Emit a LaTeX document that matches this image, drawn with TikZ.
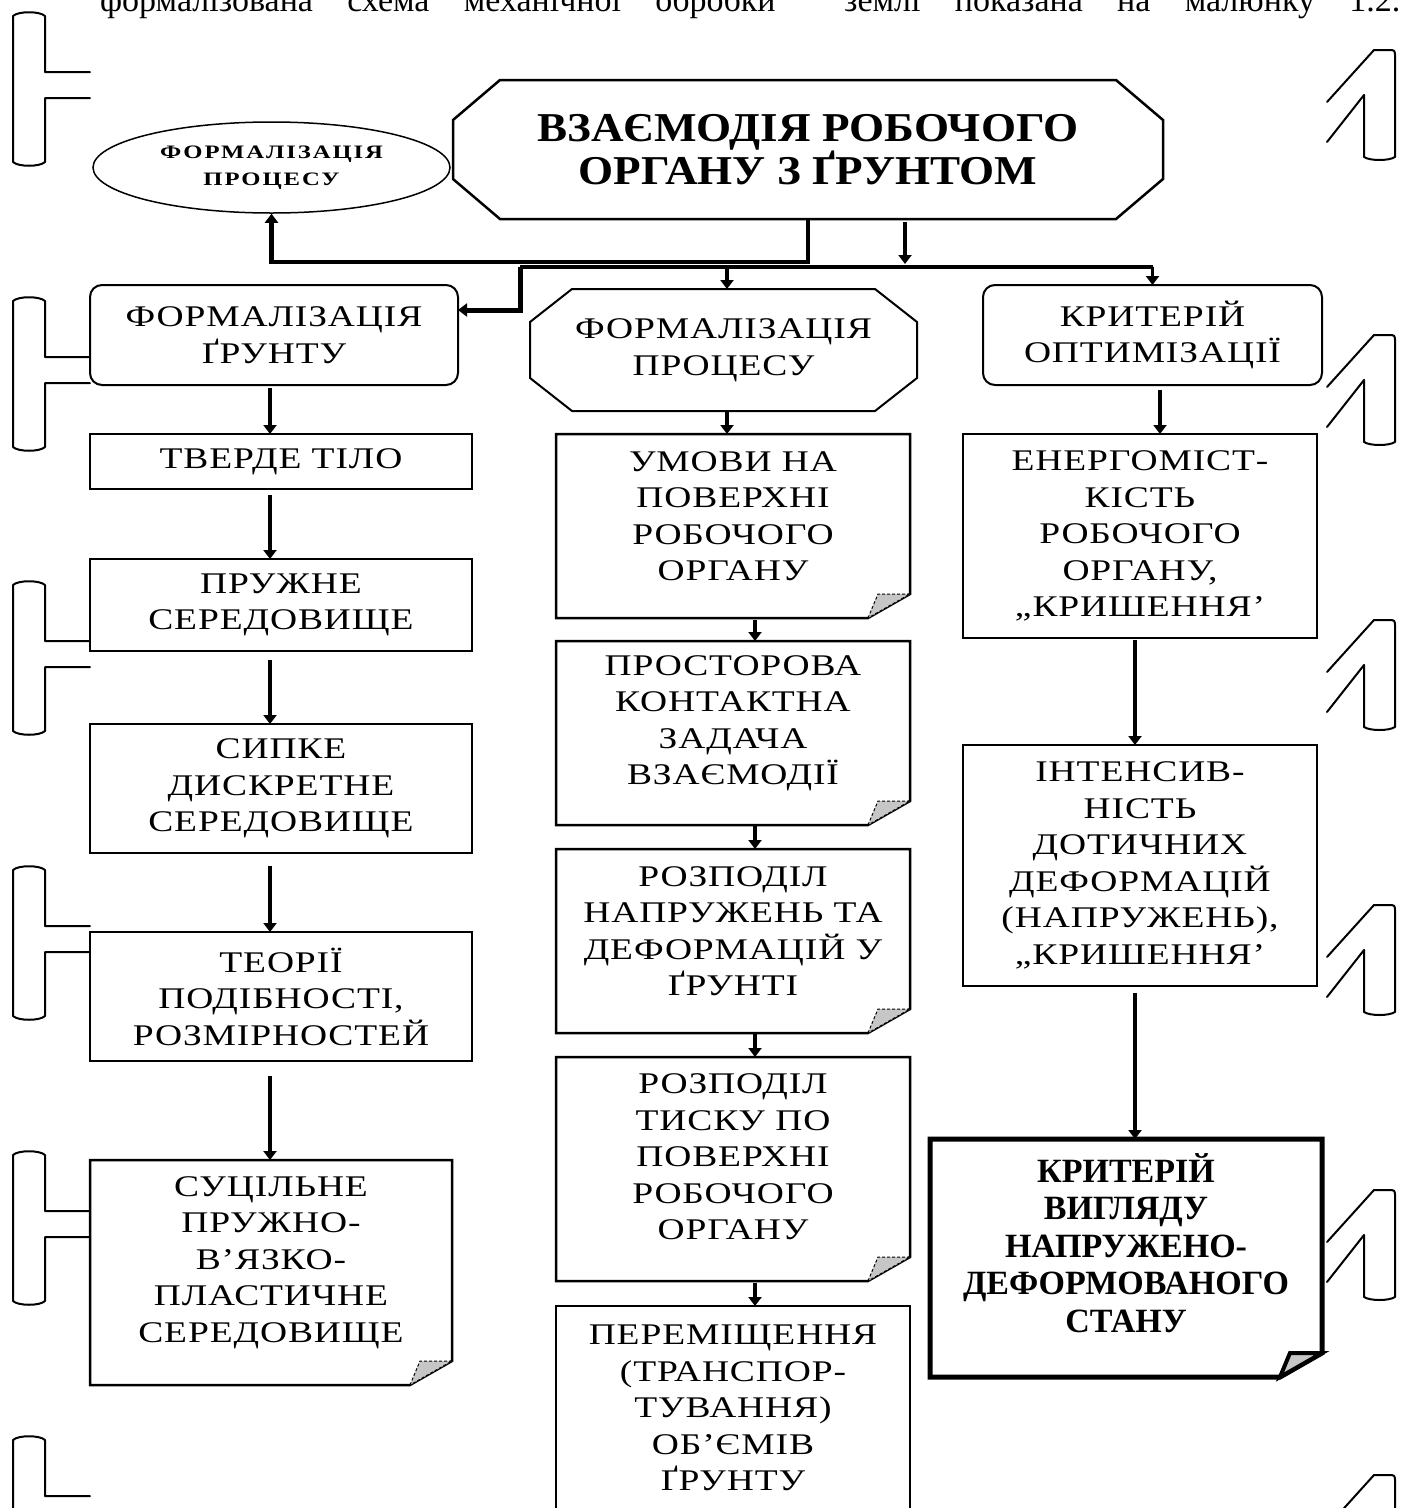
\documentclass[tikz,border=0pt]{standalone}
\usepackage{fontspec}
\usetikzlibrary{arrows.meta,calc,shapes.geometric}
\newfontfamily\bxfam[FakeStretch=1.25,LetterSpace=3]{Liberation Serif}
\newfontfamily\elfam[FakeStretch=1.3,LetterSpace=10]{Liberation Serif}
\newfontfamily\tbfam[FakeStretch=1.1]{Liberation Serif}
\newfontfamily\capfam{Liberation Serif}
\newcommand\boxfont{\bxfam\fontsize{30}{36.5}\selectfont}
\newcommand\ellfont{\elfam\bfseries\fontsize{19}{27}\selectfont}
\newcommand\titlefont{\tbfam\bfseries\fontsize{41}{42}\selectfont}
\newcommand\critfont{\capfam\bfseries\fontsize{34}{37.5}\selectfont}
\newcommand\capfont{\capfam\fontsize{34}{40}\selectfont}
% outline of a node with a folded bottom-right corner
\newcommand\foldoutline[3]{%
  \draw[line width=#2] (#1.north west) -- (#1.north east) -- ($(#1.south east)+(0,-24)$)
     -- ($(#1.south east)+(-42,0)$) -- (#1.south west) -- cycle;
  \draw[#3] ($(#1.south east)+(-42,0)$) -- ($(#1.south east)+(-32,-24)$)
     -- ($(#1.south east)+(0,-24)$) -- cycle;}
% outline of a node with cut corners
\newcommand\octshape[4]{%
  \draw[line width=#4] ($(#1.north west)+(#2,0)$) -- ($(#1.north east)+(-#2,0)$)
     -- ($(#1.north east)+(0,#3)$) -- ($(#1.south east)+(0,-#3)$)
     -- ($(#1.south east)+(-#2,0)$) -- ($(#1.south west)+(#2,0)$)
     -- ($(#1.south west)+(0,-#3)$) -- ($(#1.north west)+(0,#3)$) -- cycle;}
\begin{document}
\begin{tikzpicture}[x=1pt,y=-1pt,
  plain/.style={inner sep=0pt,outer sep=0pt,align=center,font=\boxfont},
  box/.style={plain,draw,line width=2.5pt},
  rbox/.style={box,rounded corners=12pt,line width=2pt},
  doctext/.style={font=\boxfont,align=center,inner sep=0pt,yshift=10pt},
  crittext/.style={font=\critfont,align=center,inner sep=0pt,yshift=15pt},
  ell/.style={ellipse,draw,line width=1.5pt,minimum width=357pt,minimum height=91pt,
              inner sep=0pt,align=center,font=\ellfont},
  conn/.style={line width=3.5pt,-{Triangle[width=13pt,length=9pt]}},
  bus/.style={line width=4.5pt},
  art/.style={line width=2pt,line cap=round,line join=round},
  foldtri/.style={fill=gray!45,draw,line width=1pt,densely dashed},
  foldtrithick/.style={fill=gray!45,draw,line width=4pt},
]
\useasboundingbox (0,0) rectangle (1405,1508);
\fill[white] (0,0) rectangle (1405,1508);
\clip (0,0) rectangle (1405,1508);

% cut line of text at the top
\node[anchor=base west,inner sep=0pt,font=\capfont] (cap) at (100,11)
  {\hbox to 1300pt{формалізована\hfill схема\hfill механічної\hfill обробки\hfill\hfill землі\hfill показана\hfill на\hfill малюнку\hfill 1.2.}};

% scan marks at the left
\foreach \y in {16,301,585,870,1155,1440}{
  \draw[art] (90,\y+56) -- (45,\y+56) -- (45,\y) .. controls (40,\y-5) and (18,\y-5) .. (13,\y)
     -- (13,\y+146) .. controls (18,\y+151) and (40,\y+151) .. (45,\y+146) -- (45,\y+82) -- (90,\y+82);
}
% scan marks at the right
\foreach \y in {50,335,620,905,1190,1475}{
  \draw[art] (1364,\y+45) -- (1364,\y+107) .. controls (1370,\y+111) and (1389,\y+111) .. (1395,\y+107)
     -- (1395,\y+7) .. controls (1395,\y) .. (1388,\y) -- (1374,\y) -- (1327,\y+52);
  \draw[art] (1364,\y+45) -- (1327,\y+92);
}

% top
\node[ell] (ell) at (271.5,167.5) {ФОРМАЛІЗАЦІЯ\\ПРОЦЕСУ};
\node[plain,font=\titlefont,minimum width=710pt,minimum height=139pt] (big) at (808,149.5)
  {ВЗАЄМОДІЯ РОБОЧОГО\\ОРГАНУ З ҐРУНТОМ};
\octshape{big}{47}{40}{2.5pt}

% left column
\node[rbox,minimum width=368pt,minimum height=100pt] (L1) at (274,335) {ФОРМАЛІЗАЦІЯ\\ҐРУНТУ};
\node[box,minimum width=382pt,minimum height=55pt] (L2) at (281,461.5) {ТВЕРДЕ ТІЛО};
\node[box,minimum width=382pt,minimum height=92pt] (L3) at (281,605) {ПРУЖНЕ\\СЕРЕДОВИЩЕ};
\node[box,minimum width=382pt,minimum height=129pt] (L4) at (281,788.5) {СИПКЕ\\ДИСКРЕТНЕ\\СЕРЕДОВИЩЕ};
\node[box,minimum width=382pt,minimum height=129pt] (L5) at (281,996.5) {ТЕОРІЇ\\ПОДІБНОСТІ,\\РОЗМІРНОСТЕЙ};
\node[plain,minimum width=362pt,minimum height=225pt,
  label={[doctext]center:{СУЦІЛЬНЕ\\ПРУЖНО-\\В’ЯЗКО-\\ПЛАСТИЧНЕ\\СЕРЕДОВИЩЕ}}] (L6) at (271,1272.5) {};
\foldoutline{L6}{2.5pt}{foldtri}

% middle column
\node[plain,minimum width=387pt,minimum height=122pt] (M1) at (723.5,350) {ФОРМАЛІЗАЦІЯ\\ПРОЦЕСУ};
\octshape{M1}{42}{33}{2pt}
\node[plain,minimum width=354pt,minimum height=184pt,
  label={[doctext]center:{УМОВИ НА\\ПОВЕРХНІ\\РОБОЧОГО\\ОРГАНУ}}] (M2) at (733,526) {};
\foldoutline{M2}{2.5pt}{foldtri}
\node[plain,minimum width=354pt,minimum height=184pt,
  label={[doctext]center:{ПРОСТОРОВА\\КОНТАКТНА\\ЗАДАЧА\\ВЗАЄМОДІЇ}}] (M3) at (733,733) {};
\foldoutline{M3}{2.5pt}{foldtri}
\node[plain,minimum width=354pt,minimum height=184pt,
  label={[doctext]center:{РОЗПОДІЛ\\НАПРУЖЕНЬ ТА\\ДЕФОРМАЦІЙ У\\ҐРУНТІ}}] (M4) at (733,941) {};
\foldoutline{M4}{2.5pt}{foldtri}
\node[plain,minimum width=354pt,minimum height=224pt,
  label={[doctext,yshift=2pt]center:{РОЗПОДІЛ\\ТИСКУ ПО\\ПОВЕРХНІ\\РОБОЧОГО\\ОРГАНУ}}] (M5) at (733,1169) {};
\foldoutline{M5}{2.5pt}{foldtri}
\node[box,minimum width=354pt,minimum height=204pt] (M6) at (733,1408)
  {ПЕРЕМІЩЕННЯ\\(ТРАНСПОР-\\ТУВАННЯ)\\ОБ’ЄМІВ\\ҐРУНТУ};

% right column
\node[rbox,minimum width=339pt,minimum height=100pt] (R1) at (1152.5,335) {КРИТЕРІЙ\\ОПТИМІЗАЦІЇ};
\node[box,minimum width=354pt,minimum height=204pt] (R2) at (1140,536)
  {ЕНЕРГОМІСТ-\\КІСТЬ\\РОБОЧОГО\\ОРГАНУ,\\„КРИШЕННЯ’};
\node[box,minimum width=354pt,minimum height=241pt] (R3) at (1140,865.5)
  {ІНТЕНСИВ-\\НІСТЬ\\ДОТИЧНИХ\\ДЕФОРМАЦІЙ\\(НАПРУЖЕНЬ),\\„КРИШЕННЯ’};
\node[plain,minimum width=392pt,minimum height=238pt,
  label={[crittext]center:{КРИТЕРІЙ\\ВИГЛЯДУ\\НАПРУЖЕНО-\\ДЕФОРМОВАНОГО\\СТАНУ}}] (R4) at (1126,1258) {};
\foldoutline{R4}{5pt}{foldtrithick}

% connectors from the top
\coordinate (busL) at (520,267);
\coordinate (colL) at (270,0);
\coordinate (colM1) at (727,0);
\coordinate (colM) at (755,0);
\coordinate (colR1) at (1160,0);
\coordinate (colR) at (1135,0);
\draw[conn,line width=4.5pt] (big.south) -- ++(0,43) -| (ell.south);
\draw[conn] ($(big.south)+(97,3)$) -- ($(big.south)+(97,45)$);
\draw[bus] (busL) -- (busL -| R1.north);
\draw[conn,line width=5pt] (busL) |- ($(L1.east)+(0,-25)$);
\draw[conn] (colM1 |- busL) -- (colM1 |- M1.north);
\draw[conn] (busL -| R1.north) -- (R1.north);

% left column connectors
\draw[conn] ($(colL |- L1.south)+(0,3)$) -- (colL |- L2.north);
\draw[conn] ($(colL |- L2.south)+(0,6)$) -- (colL |- L3.north);
\draw[conn] ($(colL |- L3.south)+(0,9)$) -- (colL |- L4.north);
\draw[conn] ($(colL |- L4.south)+(0,13)$) -- (colL |- L5.north);
\draw[conn] ($(colL |- L5.south)+(0,15)$) -- (colL |- L6.north);

% middle column connectors
\draw[conn] (colM1 |- M1.south) -- (colM1 |- M2.north);
\draw[conn] ($(colM |- M2.south)+(0,2)$) -- (colM |- M3.north);
\draw[conn] ($(colM |- M3.south)+(0,1)$) -- (colM |- M4.north);
\draw[conn] ($(colM |- M4.south)+(0,1)$) -- (colM |- M5.north);
\draw[conn] ($(colM |- M5.south)+(0,2)$) -- (colM |- M6.north);

% right column connectors
\draw[conn] ($(colR1 |- R1.south)+(0,5)$) -- (colR1 |- R2.north);
\draw[conn] ($(colR |- R2.south)+(0,2)$) -- (colR |- R3.north);
\draw[conn] ($(colR |- R3.south)+(0,7)$) -- (colR |- R4.north);
\end{tikzpicture}
\end{document}
